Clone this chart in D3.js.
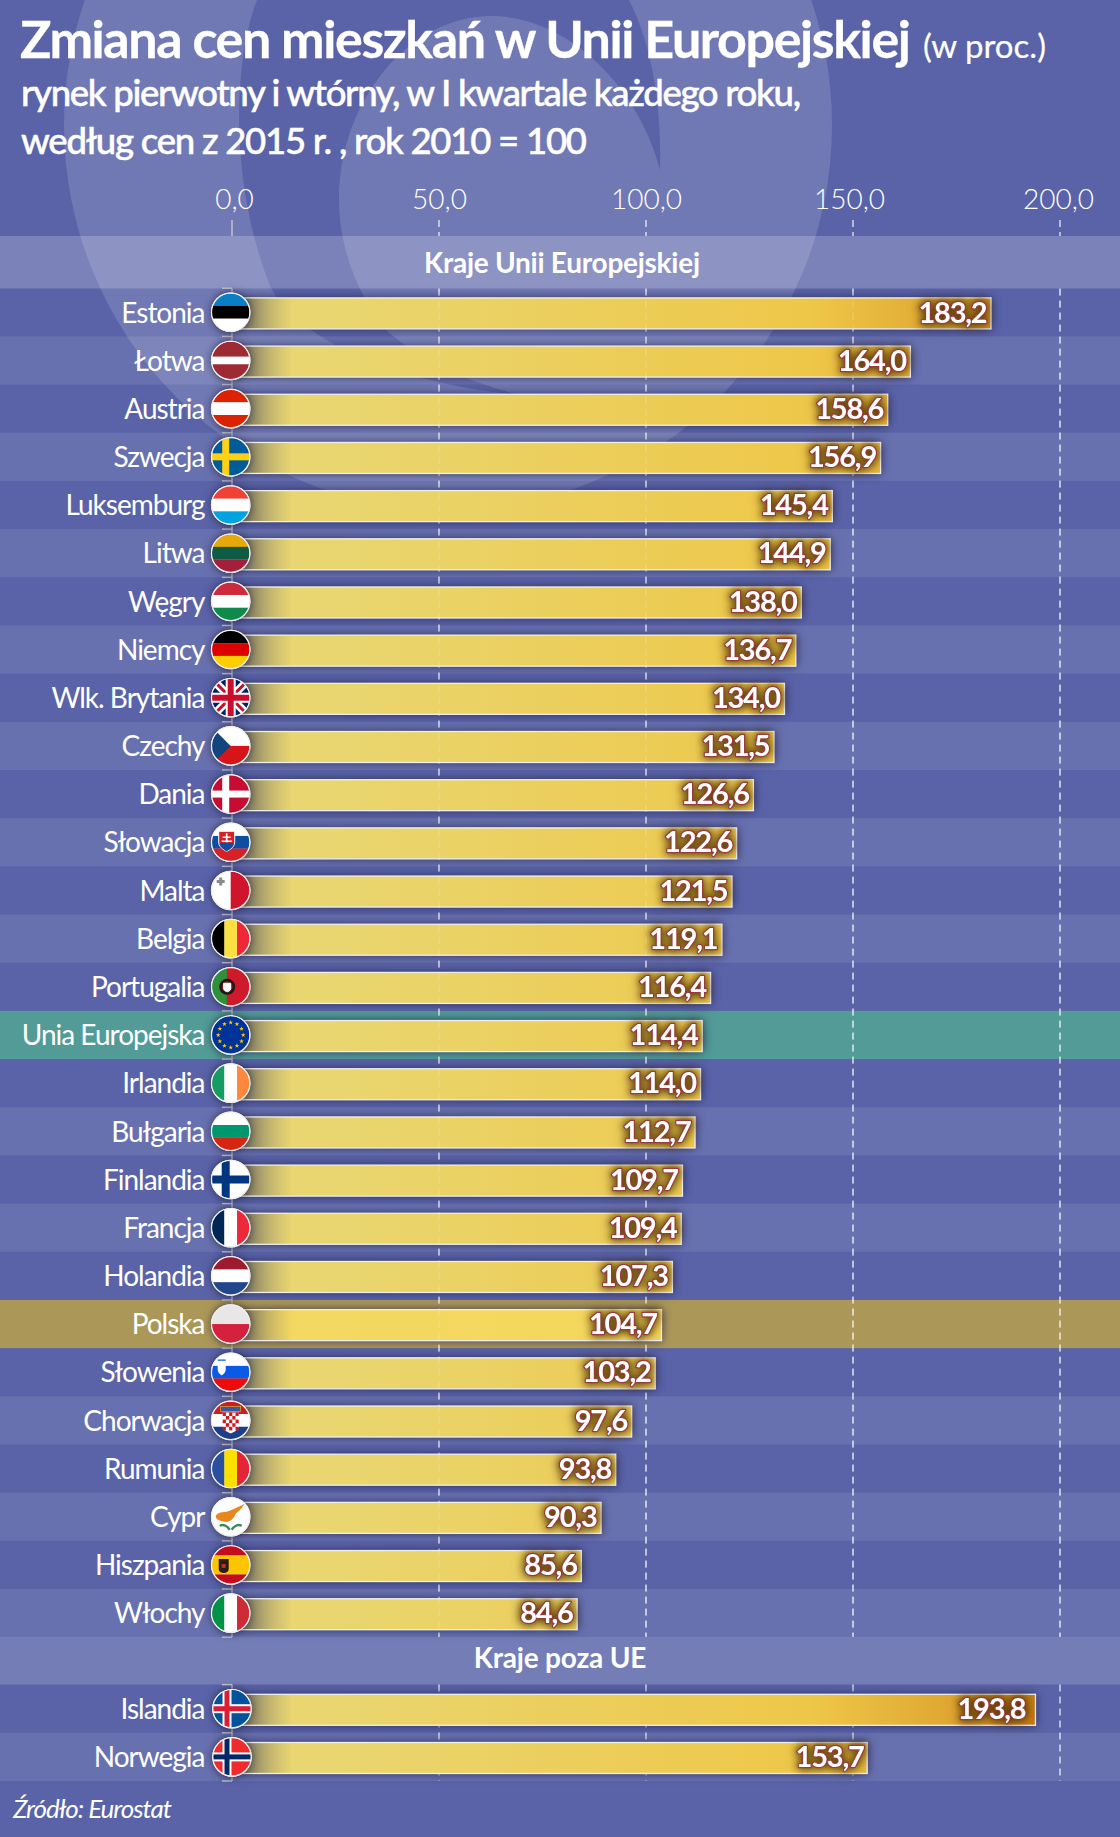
<!DOCTYPE html>
<html lang="pl"><head><meta charset="utf-8">
<script src="https://cdn.jsdelivr.net/npm/d3@7"></script>
<style>html,body{margin:0;padding:0;background:#5a63a8}svg{display:block}text{font-family:Lato,sans-serif;fill:#fff}</style>
</head><body><svg id="c" width="1120" height="1837"></svg>
<script>
const euCountries = ["Estonia","Łotwa","Austria","Szwecja","Luksemburg","Litwa","Węgry","Niemcy","Wlk. Brytania","Czechy","Dania","Słowacja","Malta","Belgia","Portugalia","Unia Europejska","Irlandia","Bułgaria","Finlandia","Francja","Holandia","Polska","Słowenia","Chorwacja","Rumunia","Cypr","Hiszpania","Włochy"];
const euValues = [183.2,164.0,158.6,156.9,145.4,144.9,138.0,136.7,134.0,131.5,126.6,122.6,121.5,119.1,116.4,114.4,114.0,112.7,109.7,109.4,107.3,104.7,103.2,97.6,93.8,90.3,85.6,84.6];
const otherCountries = ["Islandia","Norwegia"];
const otherValues = [193.8,153.7];
const xTicks = [0,50,100,150,200];
const titleMain = "Zmiana cen mieszkań w Unii Europejskiej";
const titleUnit = "(w proc.)";
const subtitleLines = ["rynek pierwotny i wtórny, w I kwartale każdego roku,","według cen z 2015 r. , rok 2010 = 100"];
const groupHeaders = ["Kraje Unii Europejskiej","Kraje poza UE"];
const sourceText = "Źródło: Eurostat";

const svg = d3.select("#c");
const W = 1120, H = 1837;
const fmt = v => d3.format(".1f")(v).replace(".", ",");
const x = d3.scaleLinear().domain([0,200]).range([232,1060]);      // axis & gridlines
const barX = d3.scaleLinear().domain([0,200]).range([222,1061.5]); // bars are drawn on a slightly different base in the source
const yEU = d3.scaleBand().domain(euCountries).range([288.2,1637.2]);
const yOther = d3.scaleBand().domain(otherCountries).range([1684.6,1781]);
const rows = euCountries.map((c,i)=>({name:c,value:euValues[i],y:yEU(c),h:yEU.bandwidth(),i,fx:230.7}))
  .concat(otherCountries.map((c,i)=>({name:c,value:otherValues[i],y:yOther(c),h:yOther.bandwidth(),i,fx:232})));

const defs = svg.append("defs");
const barGrad = defs.append("linearGradient").attr("id","barGrad").attr("gradientUnits","userSpaceOnUse")
  .attr("x1",232).attr("x2",1036).attr("y1",0).attr("y2",0);
[[0,"#e9d670"],[.12,"#e9d670"],[.72,"#eec748"],[.9,"#dfa630"],[1,"#c47a10"]].forEach(s=>barGrad.append("stop").attr("offset",s[0]).attr("stop-color",s[1]));
const polGrad = defs.append("linearGradient").attr("id","polGrad").attr("gradientUnits","userSpaceOnUse")
  .attr("x1",232).attr("x2",1036).attr("y1",0).attr("y2",0);
[[0,"#f2d862"],[.5,"#f4d75c"],[1,"#e8b840"]].forEach(s=>polGrad.append("stop").attr("offset",s[0]).attr("stop-color",s[1]));
const fade = defs.append("linearGradient").attr("id","fade").attr("gradientUnits","userSpaceOnUse")
  .attr("x1",246).attr("x2",292).attr("y1",0).attr("y2",0);
[[0,"#50505a",.72],[.5,"#6a6a6a",.32],[1,"#777",0]].forEach(s=>fade.append("stop").attr("offset",s[0]).attr("stop-color",s[1]).attr("stop-opacity",s[2]));
const clipC = defs.append("clipPath").attr("id","flagClip"); clipC.append("circle").attr("r",19);

// background
svg.append("rect").attr("width",W).attr("height",H).attr("fill","#5a63a8");
svg.append("ellipse").attr("cx",448).attr("cy",125).attr("rx",384).attr("ry",385).attr("fill","#fff").attr("fill-opacity",.14);
svg.append("path").attr("fill","#5a63a8")
  .attr("d","M257,0 C237,50 225,170 270,286 C300,345 410,385 520,395 C450,378 410,350 388,332 C360,300 339,250 339,200 C339,100 410,16 491,16 C570,16 640,90 660,170 C662,100 650,40 629,0 Z");

// bands
svg.append("g").selectAll("rect").data(rows).join("rect")
  .attr("x",0).attr("width",W).attr("y",d=>d.y).attr("height",d=>d.h)
  .attr("fill",d=>d.name==="Unia Europejska"?"#529b97":d.name==="Polska"?"#ab9859":"#fff")
  .attr("fill-opacity",d=>(d.name==="Unia Europejska"||d.name==="Polska")?1:(d.i%2?0.09:0));
svg.append("rect").attr("x",0).attr("width",W).attr("y",236).attr("height",52.5).attr("fill","#fff").attr("fill-opacity",.2);
svg.append("rect").attr("x",0).attr("width",W).attr("y",1637).attr("height",47.5).attr("fill","#fff").attr("fill-opacity",.17);

// title
const T = svg.append("g").attr("stroke","#fff");
T.append("text").attr("x",20).attr("y",58).attr("font-size",52).attr("font-weight",700).attr("stroke-width",.3).attr("textLength",891).attr("lengthAdjust","spacing").text(titleMain);
T.append("text").attr("x",923).attr("y",58).attr("font-size",33).attr("stroke-width",.2).attr("textLength",123).attr("lengthAdjust","spacing").text(titleUnit);
T.append("text").attr("x",21).attr("y",106).attr("font-size",36.5).attr("font-weight",500).attr("stroke-width",.5).attr("textLength",780).attr("lengthAdjust","spacing").text(subtitleLines[0]);
T.append("text").attr("x",21).attr("y",154).attr("font-size",36.5).attr("font-weight",500).attr("stroke-width",.5).attr("textLength",566).attr("lengthAdjust","spacing").text(subtitleLines[1]);

// grid & axis
const tickShift = new Map([[0,2],[50,0],[100,0],[150,-4],[200,-2]]);
const axis = d3.axisTop(x).tickValues(xTicks).tickFormat(fmt).tickSize(0).tickPadding(0);
const gAxis = svg.append("g").attr("transform","translate(0,209)").call(axis);
gAxis.select(".domain").remove();
gAxis.selectAll("text").attr("font-size",28).attr("font-family","Lato").attr("fill","#fff").attr("font-weight",300).attr("dy",0).attr("dx",d=>tickShift.get(d));
const grid = svg.append("g");
const segs = [[220,236],[288.5,1637],[1684.6,1781]];
grid.selectAll("g").data(xTicks).join("g").each(function(d){
  d3.select(this).selectAll("line").data(segs).join("line")
    .attr("x1",x(d)).attr("x2",x(d)).attr("y1",s=>s[0]).attr("y2",s=>s[1])
    .attr("stroke",d===0?"#c8c8d4":"#fff").attr("stroke-width",1.4)
    .attr("stroke-dasharray",d===0?null:"7,5").attr("stroke-opacity",d===0?1:.8);
});
grid.selectAll("path").data(rows.concat(rows.filter((d,i)=>i===27||i===29).map(d=>({...d,y:d.y+d.h})))).join("path")
  .attr("d",d=>`M222,${d.y}H232`).attr("stroke","#c8c8d4").attr("stroke-width",1.4).attr("fill","none");

// bars
const bars = svg.append("g").selectAll("g").data(rows).join("g");
const barTop = d=>d.y+9.7, barH = 31;
bars.append("rect").attr("x",barX(0)).attr("y",barTop).attr("width",d=>barX(d.value)-barX(0)).attr("height",barH)
  .attr("fill",d=>d.name==="Polska"?"url(#polGrad)":"url(#barGrad)")
  .attr("stroke","#efeff2").attr("stroke-width",1.3)
  .style("filter","drop-shadow(0 0 5px rgba(30,30,70,.75))");
bars.append("rect").attr("x",240).attr("y",d=>barTop(d)+.7).attr("width",60).attr("height",barH-1.4).attr("fill","url(#fade)");
// grid overlay, faint over bars
svg.append("g").selectAll("line").data(xTicks.slice(1)).join("line")
  .attr("x1",d=>x(d)).attr("x2",d=>x(d)).attr("y1",289).attr("y2",1636)
  .attr("stroke","#fff").attr("stroke-opacity",.18).attr("stroke-width",1.4).attr("stroke-dasharray","7,5");

// value labels
const labelGap = d => d.name==="Islandia" ? 10 : d.name==="Norwegia" ? 3.5 : 4.5;
svg.append("g").selectAll("text").data(rows).join("text")
  .attr("x",d=>barX(d.value)-labelGap(d)).attr("y",d=>d.y+34.3).attr("text-anchor","end")
  .attr("font-size",29).attr("font-weight",700).attr("letter-spacing",-1.2).attr("fill","#fff")
  .attr("stroke","#963c3c").attr("stroke-width",2.4).attr("paint-order","stroke").attr("stroke-linejoin","round")
  .style("filter","drop-shadow(0 0 5px rgba(80,50,0,.95)) drop-shadow(0 0 3px rgba(80,50,0,.5))").text(d=>fmt(d.value));

// category labels
svg.append("g").selectAll("text").data(rows).join("text")
  .attr("x",204.5).attr("y",d=>d.y+34.3).attr("text-anchor","end").attr("font-size",28).attr("letter-spacing",-1).text(d=>d.name);

// headers
svg.append("text").attr("x",562).attr("y",273).attr("text-anchor","middle").attr("font-size",28).attr("font-weight",700).attr("textLength",276).attr("lengthAdjust","spacing").text(groupHeaders[0]);
svg.append("text").attr("x",560).attr("y",1668).attr("text-anchor","middle").attr("font-size",28).attr("font-weight",700).attr("letter-spacing",-.2).text(groupHeaders[1]);
svg.append("text").attr("x",13).attr("y",1818).attr("font-size",26).attr("font-style","italic").attr("textLength",159).attr("lengthAdjust","spacing").text(sourceText);

// flags
const R = 19;
function hs(g,cols,w){w=w||cols.map(()=>1);const t=d3.sum(w);let y=-R;cols.forEach((c,i)=>{const h=2*R*w[i]/t;g.append("rect").attr("x",-R).attr("y",y).attr("width",2*R).attr("height",h+.2).attr("fill",c);y+=h;});}
function vs(g,cols,w){w=w||cols.map(()=>1);const t=d3.sum(w);let X=-R;cols.forEach((c,i)=>{const h=2*R*w[i]/t;g.append("rect").attr("y",-R).attr("x",X).attr("height",2*R).attr("width",h+.2).attr("fill",c);X+=h;});}
function cross(g,bg,c1,w1,c2,w2,off){g.append("rect").attr("x",-R).attr("y",-R).attr("width",2*R).attr("height",2*R).attr("fill",bg);
  [[c1,w1],[c2,w2]].forEach(([c,w])=>{if(!c)return;g.append("rect").attr("x",off-w/2).attr("y",-R).attr("width",w).attr("height",2*R).attr("fill",c);g.append("rect").attr("x",-R).attr("y",-w/2).attr("width",2*R).attr("height",w).attr("fill",c);});}
const flags = {
 "Estonia":g=>hs(g,["#0a7fc4","#000","#fff"]),
 "Łotwa":g=>hs(g,["#9e2a33","#fff","#9e2a33"],[2,1,2]),
 "Austria":g=>hs(g,["#dc2300","#fff","#dc2300"]),
 "Szwecja":g=>cross(g,"#005b99","#fcd116",7,null,0,-5),
 "Luksemburg":g=>hs(g,["#ef4135","#fff","#00a3e0"]),
 "Litwa":g=>hs(g,["#e8a80c","#0f5b43","#a3203a"]),
 "Węgry":g=>hs(g,["#cd2a3e","#fff","#0f8a4a"]),
 "Niemcy":g=>hs(g,["#000","#dd0000","#ffce00"]),
 "Wlk. Brytania":g=>{g.append("rect").attr("x",-R).attr("y",-R).attr("width",38).attr("height",38).attr("fill","#012169");
   [["#fff",8],["#c8102e",3]].forEach(([c,w])=>{g.append("path").attr("d","M-19,-19L19,19M-19,19L19,-19").attr("stroke",c).attr("stroke-width",w);});
   g.append("path").attr("d","M0,-19V19M-19,0H19").attr("stroke","#fff").attr("stroke-width",10);
   g.append("path").attr("d","M0,-19V19M-19,0H19").attr("stroke","#c8102e").attr("stroke-width",6);},
 "Czechy":g=>{hs(g,["#fff","#d7141a"]);g.append("path").attr("d","M-19,-19L0,0L-19,19Z").attr("fill","#11457e");},
 "Dania":g=>cross(g,"#c60c30","#fff",7,null,0,-5),
 "Słowacja":g=>{hs(g,["#fff","#0b4ea2","#d82126"]);g.append("path").attr("d","M-12,-11H4V0C4,6 -4,9 -4,9C-4,9 -12,6 -12,0Z").attr("fill","#d82126").attr("stroke","#fff");
   g.append("path").attr("d","M-4,-9V5M-8,-5H0M-9,-1H1").attr("stroke","#fff").attr("stroke-width",1.6);
   g.append("path").attr("d","M-11,2C-9,-1 -7,2 -4,0C-1,2 1,-1 3,2C2,6 -4,9 -4,9C-4,9 -10,6 -11,2Z").attr("fill","#0b4ea2");},
 "Malta":g=>{vs(g,["#fff","#cf142b"]);g.append("path").attr("d","M-14,-9H-6M-10,-13V-5").attr("stroke","#8a8a8a").attr("stroke-width",3);},
 "Belgia":g=>vs(g,["#000","#fae042","#ed2939"]),
 "Portugalia":g=>{vs(g,["#2f8f3a","#cf1a2b"],[2,3]);g.append("circle").attr("cx",-3.5).attr("r",8).attr("fill","#1a1a1a");g.append("circle").attr("cx",-3.5).attr("r",5.5).attr("fill","#8a1a20");g.append("path").attr("d","M-7,-3.5H0V2C0,4 -3.5,5 -3.5,5C-3.5,5 -7,4 -7,2Z").attr("fill","#fff").attr("stroke","#fff");},
 "Unia Europejska":g=>{g.append("rect").attr("x",-R).attr("y",-R).attr("width",38).attr("height",38).attr("fill","#003399");
   d3.range(12).forEach(i=>{const a=i*Math.PI/6;g.append("path").attr("d",d3.symbol(d3.symbolStar,7)()).attr("fill","#ffcc00").attr("transform",`translate(${12.5*Math.sin(a)},${-12.5*Math.cos(a)})`);});},
 "Irlandia":g=>vs(g,["#169b62","#fff","#ff883e"]),
 "Bułgaria":g=>hs(g,["#fff","#00966e","#d62612"]),
 "Finlandia":g=>cross(g,"#fff","#003580",8,null,0,-5),
 "Francja":g=>vs(g,["#002654","#fff","#ed2939"]),
 "Holandia":g=>hs(g,["#9e1b2f","#fff","#21468b"]),
 "Polska":g=>hs(g,["#e8e6e6","#d4213d"]),
 "Słowenia":g=>{hs(g,["#fff","#0a5ae6","#f00a0a"]);g.append("path").attr("d","M-13,-10H-5V-3C-5,1 -9,3 -9,3C-9,3 -13,1 -13,-3Z").attr("fill","#fff");g.append("path").attr("d","M-13,-12H-5").attr("stroke","#0a5ae6").attr("stroke-width",1.2);},
 "Chorwacja":g=>{hs(g,["#d01c1f","#fff","#1b3f8b"]);g.append("rect").attr("x",-10).attr("y",-14).attr("width",20).attr("height",5).attr("fill","#3558a8").attr("stroke","#e8c020").attr("stroke-width",.6);
   g.append("path").attr("d","M-8,-8H8V6C8,10 0,13 0,13C0,13 -8,10 -8,6Z").attr("fill","#fff");
   d3.range(5).forEach(r=>d3.range(5).forEach(c=>{if((r+c)%2===0)g.append("rect").attr("x",-8+c*3.2).attr("y",-8+r*3.6).attr("width",3.2).attr("height",3.6).attr("fill","#d01c1f");}));},
 "Rumunia":g=>vs(g,["#2b4fa0","#fce000","#e52437"]),
 "Cypr":g=>{g.append("rect").attr("x",-R).attr("y",-R).attr("width",38).attr("height",38).attr("fill","#fff");
   g.append("path").attr("d","M-15,-1C-12,-6 -5,-4 -1,-6C4,-8 10,-11 14,-13C11,-8 7,-5 5,-3C3,2 -1,6 -6,5C-9,4 -15,4 -15,-1Z").attr("fill","#e8871e");
   g.append("path").attr("d","M-11,9C-7,7 -3,10 -1,13M11,9C7,7 3,10 1,13").attr("stroke","#3d8a5e").attr("stroke-width",2.5).attr("fill","none");},
 "Hiszpania":g=>{hs(g,["#c60b1e","#ffc400","#c60b1e"],[1,2,1]);g.append("path").attr("d","M-12,-6H-2V4C-2,8 -7,8 -7,8C-7,8 -12,8 -12,4Z").attr("fill","#2a1c18");g.append("rect").attr("x",-9).attr("y",-1).attr("width",4).attr("height",4).attr("fill","#c0302a");},
 "Włochy":g=>vs(g,["#009246","#fff","#ce2b37"]),
 "Islandia":g=>cross(g,"#02529c","#fff",9,"#dc1e35",5,-5),
 "Norwegia":g=>cross(g,"#ef2b2d","#fff",9,"#002868",5,-5)
};
const fg = svg.append("g").selectAll("g").data(rows).join("g")
  .attr("transform",d=>`translate(${d.fx},${d.y+d.h/2})`);
fg.append("circle").attr("r",19.8).attr("fill","#fff").style("filter","drop-shadow(0 0 4px rgba(20,20,40,.6))");
fg.each(function(d){const g=d3.select(this).append("g").attr("clip-path","url(#flagClip)");flags[d.name](g);});
fg.append("circle").attr("r",19.2).attr("fill","none").attr("stroke","#eee").attr("stroke-width",1.2);
</script></body></html>
